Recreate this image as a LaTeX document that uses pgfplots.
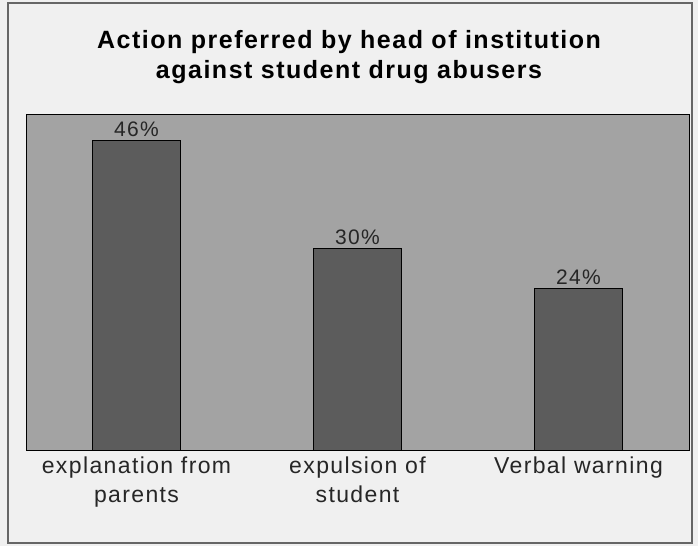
\documentclass[border=0pt]{standalone}
\usepackage{fontspec}
\setmainfont{Liberation Sans}
\newfontfamily\titlefont[LetterSpace=6]{Liberation Sans}
\newfontfamily\labfont[LetterSpace=6]{Liberation Sans}
\newfontfamily\valfont[LetterSpace=6]{Liberation Sans}
\usepackage{pgfplots}
\pgfplotsset{compat=1.18}
\definecolor{panelbg}{HTML}{F0F0F0}
\definecolor{plotbg}{HTML}{A3A3A3}
\definecolor{barfill}{HTML}{5C5C5C}
\begin{document}
\begin{tikzpicture}[x=1pt,y=1pt]
\fill[panelbg] (0,0) rectangle (698,546);
\draw[black!60, line width=1.5pt] (8,3) rectangle (692,543);
\node[font=\titlefont\bfseries\fontsize{25}{28}\selectfont] at (349,504) {Action preferred by head of institution};
\node[font=\titlefont\bfseries\fontsize{25}{28}\selectfont] at (349,474) {against student drug abusers};
\begin{axis}[
  at={(26pt,96pt)}, anchor=south west,
  scale only axis, width=663pt, height=336pt,
  xmin=-0.5, xmax=2.5, ymin=0, ymax=50,
  axis background/.style={fill=plotbg},
  xtick={0,1,2},
  xticklabels={explanation from\\parents, expulsion of\\student, Verbal warning},
  ytick=\empty,
  major tick length=0pt,
  xticklabel style={align=center, font=\labfont\fontsize{23}{29}\selectfont, text=black!85, yshift=-3pt},
  axis line style={black, line width=0.8pt},
  ybar, bar width=0.4,
  /pgf/number format/assume math mode=true,
  nodes near coords={\pgfmathprintnumber{\pgfplotspointmeta}\%},
  every node near coord/.append style={font=\valfont\fontsize{21}{24}\selectfont, text=black!85, yshift=0pt},
]
\addplot[fill=barfill, draw=black, line width=0.8pt] coordinates {(0,46) (1,30) (2,24)};
\end{axis}
\end{tikzpicture}
\end{document}
